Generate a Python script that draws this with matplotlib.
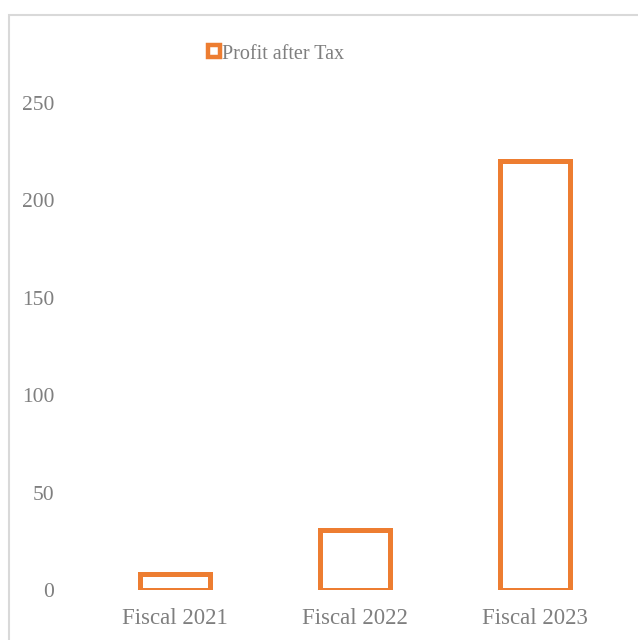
import matplotlib.pyplot as plt
from matplotlib.patches import Rectangle
from matplotlib.lines import Line2D

categories = ["Fiscal 2021", "Fiscal 2022", "Fiscal 2023"]
profit = [8, 31, 220]
yticks = [0, 50, 100, 150, 200, 250]

orange = "#ED7D31"
grey = "#7F7F7F"
plt.rcParams['font.family'] = ['Liberation Serif', 'DejaVu Serif']

fig = plt.figure(figsize=(6.38, 6.4), dpi=100)
ax = fig.add_axes([85 / 638, 50 / 640, 540 / 638, 487 / 640])

# outer chart border (light grey)
fig.patches.append(Rectangle((9 / 638, -0.1), 1.2, 1 - 14.5 / 640 + 0.1,
                             transform=fig.transFigure, fill=False,
                             edgecolor="#D9D9D9", linewidth=1.5))

x = range(len(categories))
ax.bar(x, profit, width=0.385, facecolor="white", edgecolor=orange, linewidth=3.6)

ax.set_xlim(-0.5, 2.5)
ax.set_ylim(0, 250)
ax.set_yticks(yticks)
ax.set_xticks(list(x))
ax.set_xticklabels(categories)
ax.tick_params(axis='both', length=0, labelcolor=grey)
ax.tick_params(axis='y', pad=22, labelsize=15.5)
ax.tick_params(axis='x', pad=13, labelsize=16.5)
for s in ax.spines.values():
    s.set_visible(False)

handle = Line2D([], [], marker='s', linestyle='none', markersize=9,
                markerfacecolor='white', markeredgecolor=orange, markeredgewidth=3.2)
fig.legend([handle], ["Profit after Tax"], loc='center', bbox_to_anchor=(276 / 638, 1 - 54 / 640),
           frameon=False, fontsize=14.5, labelcolor=grey, handletextpad=0.05,
           handlelength=0.7)

fig.savefig("out.png", dpi=100, facecolor="white")
